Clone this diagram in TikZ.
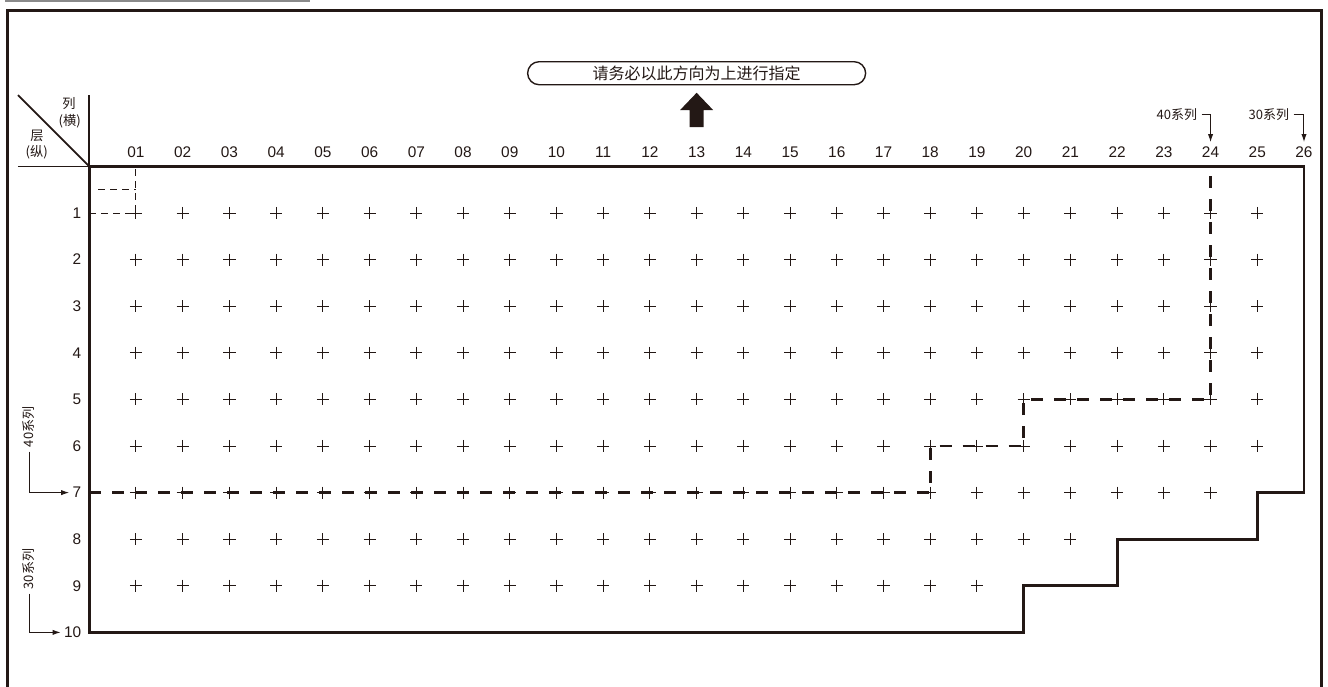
\documentclass[tikz,border=0pt]{standalone}
\usepackage{fontspec}
\setmainfont{Liberation Sans}
\newfontfamily\cjk{Noto Sans CJK SC}
\usepackage{tikz}
\usetikzlibrary{arrows.meta, positioning, calc, shapes.misc}
\usepackage{xcolor}
\definecolor{inkBlack}{HTML}{231815}
\definecolor{inkGray}{HTML}{8A8A8A}
\tikzset{
    outerframe/.style={draw=inkBlack, line width=1.5pt},
    boundary/.style={draw=inkBlack, line width=1.4pt, line join=miter},
    seriesline/.style={draw=inkBlack, line width=1.4pt, dash pattern=on 6pt off 5.5pt},
    guideline/.style={draw=inkBlack, line width=0.5pt, dash pattern=on 3.5pt off 2.5pt},
    thinline/.style={draw=inkBlack, line width=0.9pt},
    crossline/.style={draw=inkBlack, line width=0.5pt},
    collabel/.style={inner sep=2pt, font=\fontsize{7.7}{9}\selectfont, text=inkBlack},
    rowlabel/.style={anchor=east, inner sep=1.5pt, font=\fontsize{7.7}{9}\selectfont, text=inkBlack},
    cornerlabel/.style={inner sep=0pt, font=\cjk\fontsize{6.6}{7}\selectfont, text=inkBlack},
    serieslabel/.style={inner sep=2pt, font=\cjk\fontsize{6.5}{7}\selectfont, text=inkBlack},
    notebox/.style={rounded rectangle, draw=inkBlack, line width=0.7pt, minimum width=169pt, minimum height=11.5pt, inner sep=0pt, font=\cjk\fontsize{8}{9}\selectfont, text=inkBlack},
    arrow/.style={-{Latex[length=4pt, width=2.6pt]}, draw=inkBlack, line width=0.5pt},
}

\begin{document}
\begin{tikzpicture}[x=23.36pt, y=-23.3pt]
    \useasboundingbox (-1.911,-3.571) rectangle (26.514,11.17);

    % frame
    \draw[inkGray, line width=1pt] (-1.8,-3.55) -- (4.72,-3.55);
    \draw[outerframe] (-1.74,11.4) -- (-1.74,-3.335) -- (26.38,-3.335) -- (26.38,11.4);

    % direction note
    \node[notebox] (note) at (13,-2.0) {请务必以此方向为上进行指定};
    \fill[inkBlack] (13,-1.58) -- (13.353,-1.21) -- (13.15,-1.21) -- (13.15,-0.845)
        -- (12.85,-0.845) -- (12.85,-1.21) -- (12.647,-1.21) -- cycle;

    % corner
    \draw[thinline] (-1.526,-1.53) -- (0,0);
    \draw[thinline] (-1.526,0) -- (0,0) -- (0,-1.53);
    \node[cornerlabel] (lie) at (-0.434,-1.34) {列};
    \node[cornerlabel] (heng) at (-0.42,-0.974) {(横)};
    \node[cornerlabel] (ceng) at (-1.12,-0.652) {层};
    \node[cornerlabel] (zong) at (-1.125,-0.298) {(纵)};

    % column and row numbers
    \foreach \c in {1,...,26}
        \node[collabel] (c\c) at (\c,-0.31) {\ifnum\c<10 0\fi\c};
    \foreach \r in {1,...,10}
        \node[rowlabel] (r\r) at (-0.1,\r) {\r};

    % usable area
    \draw[boundary] (0,10) -- (0,0) -- (26,0) -- (26,7) -- (25,7) -- (25,8) -- (22,8)
        -- (22,9) -- (20,9) -- (20,10) -- cycle;

    % positions
    \foreach \r/\n in {1/25,2/25,3/25,4/25,5/25,6/25,7/24,8/21,9/19}
        \foreach \c in {1,...,\n}
            \draw[crossline] (\c-0.13,\r) -- (\c+0.13,\r) (\c,\r-0.13) -- (\c,\r+0.13);

    \draw[seriesline] (0,7) -- (18,7) -- (18,6) -- (20,6) -- (20,5) -- (24,5) -- (24,0);
    \draw[guideline] (0,1) -- (1,1) -- (1,0) (0.19,0.5) -- (1,0.5);

    % series marks
    \node[serieslabel] (s40top) at (23.28,-1.11) {40系列};
    \node[serieslabel] (s30top) at (25.25,-1.11) {30系列};
    \node[serieslabel, rotate=90] (s40side) at (-1.29,5.59) {40系列};
    \node[serieslabel, rotate=90] (s30side) at (-1.29,8.64) {30系列};

    \draw[arrow] (s40top.east) -| (c24.north);
    \draw[arrow] (s30top.east) -| (c26.north);
    \draw[arrow] (s40side.west) |- (r7.west);
    \draw[arrow] (s30side.west) |- (r10.west);
\end{tikzpicture}
\end{document}
